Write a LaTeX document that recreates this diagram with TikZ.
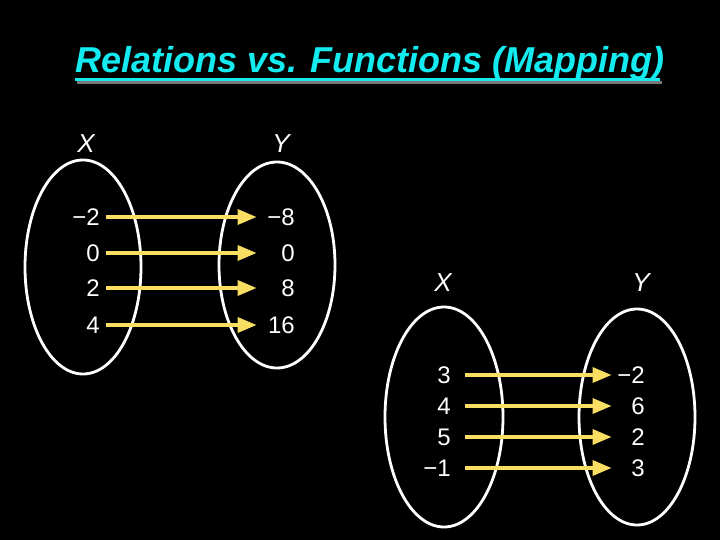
\documentclass[tikz,border=0pt]{standalone}
\usepackage{fontspec}
\setmainfont{Liberation Sans}
\usetikzlibrary{arrows.meta}
\definecolor{ttl}{RGB}{20,235,240}
\definecolor{ttlshadow}{RGB}{120,120,120}
\definecolor{arr}{RGB}{250,222,100}
\begin{document}
\begin{tikzpicture}[x=1pt,y=-1pt,
  setring/.style={draw=white,line width=2.8pt},
  num/.style={text=white,font=\fontsize{24}{26}\selectfont,inner sep=0pt,text width=34pt,align=right,text height=17pt,text depth=0pt},
  lbl/.style={text=white,font=\fontsize{26}{28}\selectfont\itshape,inner sep=0pt},
  maparrow/.style={draw=arr,line width=3.4pt,-{Triangle[length=19pt,width=15pt]}},
  ttltext/.style={font=\fontsize{36}{40}\selectfont\bfseries\itshape,inner sep=0pt,anchor=base west}]
\useasboundingbox (0,0) rectangle (720,540);
\fill[black] (0,0) rectangle (720,540);
% title
\draw[ttlshadow,line width=3pt] (77,82.5) -- (662,82.5);
\node[ttltext,text=ttl] (title) at (75,73) {Relations vs. Functions (Mapping)};
\draw[ttl,line width=3pt] (75,79.5) -- (660,79.5);
% first mapping
\draw[setring] (83,267) ellipse [x radius=58pt, y radius=107pt];
\draw[setring] (277,265) ellipse [x radius=58pt, y radius=103pt];
\node[lbl] (x1) at (86,144) {X};
\node[lbl] (y1) at (281,144) {Y};
\foreach \i/\a/\b/\y in {1/−2/−8/217,2/0/0/253,3/2/8/288,4/4/16/325}{
  \node[num,anchor=east] (a\i) at (100,\y) {\a};
  \node[num,anchor=east] (b\i) at (295,\y) {\b};
  \draw[maparrow] ([xshift=6pt]a\i.east) -- ([xshift=-4pt]b\i.west);
}
% second mapping
\draw[setring] (444,417) ellipse [x radius=59pt, y radius=110pt];
\draw[setring] (637,417) ellipse [x radius=58pt, y radius=108pt];
\node[lbl] (x2) at (443,283) {X};
\node[lbl] (y2) at (641,283) {Y};
\foreach \i/\a/\b/\y in {1/3/−2/375,2/4/6/406,3/5/2/437,4/−1/3/468}{
  \node[num,anchor=east] (c\i) at (451,\y) {\a};
  \node[num,anchor=east] (d\i) at (645,\y) {\b};
  \draw[maparrow] ([xshift=14pt]c\i.east) -- ([xshift=1pt]d\i.west);
}
\end{tikzpicture}
\end{document}
